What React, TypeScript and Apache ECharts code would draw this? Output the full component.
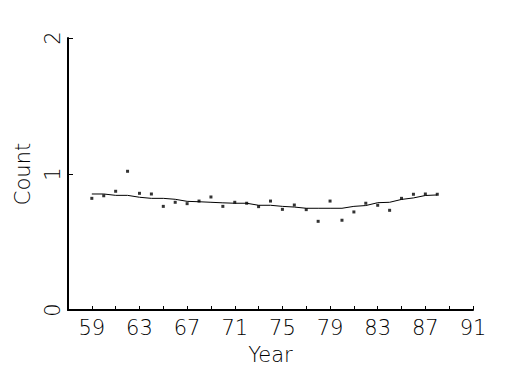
import React, { useEffect, useRef } from "react";
import * as echarts from "echarts";

const years = [59, 60, 61, 62, 63, 64, 65, 66, 67, 68, 69, 70, 71, 72, 73, 74, 75, 76, 77, 78, 79, 80, 81, 82, 83, 84, 85, 86, 87, 88];
const counts = [0.821, 0.84, 0.873, 1.02, 0.858, 0.853, 0.762, 0.792, 0.782, 0.801, 0.831, 0.762, 0.792, 0.785, 0.76, 0.801, 0.74, 0.772, 0.738, 0.652, 0.801, 0.66, 0.721, 0.785, 0.77, 0.733, 0.821, 0.851, 0.853, 0.851];
const smooth = [0.853, 0.853, 0.843, 0.843, 0.829, 0.821, 0.821, 0.814, 0.799, 0.796, 0.792, 0.788, 0.785, 0.785, 0.77, 0.77, 0.762, 0.757, 0.748, 0.748, 0.748, 0.748, 0.762, 0.768, 0.789, 0.792, 0.813, 0.824, 0.842, 0.846];
const xTicks = [59, 61, 63, 65, 67, 69, 71, 73, 75, 77, 79, 81, 83, 85, 87, 89, 91];
const xLabels = [59, 63, 67, 71, 75, 79, 83, 87, 91];
const yTicks = [0, 1, 2];

const FONT = "DejaVu Sans";

export default function App() {
  const ref = useRef<HTMLDivElement>(null);
  useEffect(() => {
    document.body.style.margin = "0";
    const chart = echarts.init(ref.current!, null, { renderer: "svg" });
    const textStyle = { fontFamily: FONT, fontWeight: 200 as any, color: "#000" };
    chart.setOption({
      animation: false,
      backgroundColor: "#fff",
      grid: { left: 68, right: 52, top: 38, bottom: 65 },
      xAxis: {
        type: "value",
        min: 57,
        max: 91,
        name: "Year",
        nameLocation: "middle",
        nameGap: 34,
        nameTextStyle: { ...textStyle, fontSize: 21 },
        axisLine: { show: true, lineStyle: { color: "#000", width: 2 } },
        axisTick: { show: true, inside: true, length: 4, lineStyle: { color: "#000", width: 1 }, customValues: xTicks },
        axisLabel: { ...textStyle, fontSize: 21, margin: 7, customValues: xLabels },
        splitLine: { show: false },
      },
      yAxis: {
        type: "value",
        min: 0,
        max: 2,
        interval: 1,
        name: "Count",
        nameLocation: "middle",
        nameGap: 35,
        nameTextStyle: { ...textStyle, fontSize: 21 },
        axisLine: { show: true, lineStyle: { color: "#000", width: 2 } },
        axisTick: { show: true, inside: true, length: 5, lineStyle: { color: "#000", width: 1 }, customValues: yTicks },
        axisLabel: { ...textStyle, fontSize: 21, margin: 5, rotate: 90, customValues: yTicks },
        splitLine: { show: false },
      },
      series: [
        {
          type: "line",
          data: years.map((y, i) => [y, smooth[i]]),
          showSymbol: false,
          symbol: "none",
          lineStyle: { color: "#000", width: 1 },
          z: 2,
        },
        {
          type: "scatter",
          data: years.map((y, i) => [y, counts[i]]),
          symbol: "rect",
          symbolSize: 3,
          itemStyle: { color: "#000" },
          z: 3,
        },
      ],
    });
    return () => chart.dispose();
  }, []);
  return <div ref={ref} style={{ width: 525, height: 375 }} />;
}
